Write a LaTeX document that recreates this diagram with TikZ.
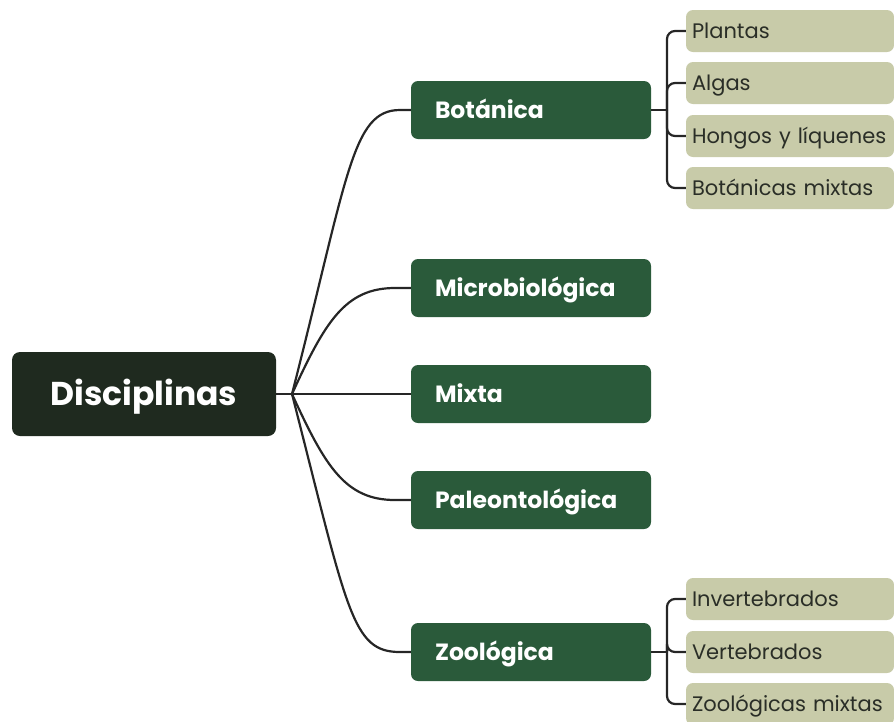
\documentclass[tikz,border=0pt]{standalone}
\usepackage{fontspec}
\setmainfont{Poppins}
\definecolor{rootc}{HTML}{1F2A1F}
\definecolor{midc}{HTML}{2A5A3A}
\definecolor{leafc}{HTML}{C8CBA9}
\definecolor{leaftext}{HTML}{2A2E27}
\definecolor{linec}{HTML}{262626}
\begin{document}
\begin{tikzpicture}[x=1pt,y=-1pt,
  rootbox/.style={fill=rootc,text=white,rounded corners=8pt,minimum width=264pt,minimum height=84pt,text height=23pt,text depth=0pt,font=\fontsize{33}{38}\selectfont\bfseries},
  midbox/.style={fill=midc,text=white,rounded corners=7pt,text width=192pt,inner xsep=24pt,inner ysep=0pt,align=left,minimum height=58pt,text height=16.5pt,text depth=0pt,font=\fontsize{23.5}{28}\selectfont\bfseries},
  leafbox/.style={fill=leafc,text=leaftext,rounded corners=7pt,text width=196pt,inner xsep=6pt,inner ysep=0pt,align=left,minimum height=42pt,text height=14.7pt,text depth=0pt,font=\fontsize{21}{25}\selectfont},
  conn/.style={draw=linec,line width=2.2pt},
  bracket/.style={draw=linec,line width=2.2pt,rounded corners=8pt}]
\useasboundingbox (0,0) rectangle (894,721);
\node[rootbox] (root) at (144,394) {Disciplinas};
\node[midbox] (bot) at (531,110) {\mbox{Botánica}};
\node[midbox] (mic) at (531,288) {\mbox{Microbiológica}};
\node[midbox] (mix) at (531,394) {\mbox{Mixta}};
\node[midbox] (pal) at (531,500) {\mbox{Paleontológica}};
\node[midbox] (zoo) at (531,652) {\mbox{Zoológica}};
\node[leafbox] (pla) at (790,31) {\mbox{Plantas}};
\node[leafbox] (alg) at (790,83) {\mbox{Algas}};
\node[leafbox] (hon) at (790,136) {\mbox{Hongos y líquenes}};
\node[leafbox] (bmx) at (790,188) {\mbox{Botánicas mixtas}};
\node[leafbox] (inv) at (790,599) {\mbox{Invertebrados}};
\node[leafbox] (ver) at (790,652) {\mbox{Vertebrados}};
\node[leafbox] (zmx) at (790,704) {\mbox{Zoológicas mixtas}};
\coordinate (hub) at (292,394);
\coordinate (bj) at (667,110);
\coordinate (zj) at (667,652);
\draw[conn] (root.east) -- (hub);
\draw[conn] (hub) .. controls (348,175) and (352,110) .. (400,110) -- (bot.west);
\draw[conn] (hub) .. controls (325,322) and (345,288) .. (395,288) -- (mic.west);
\draw[conn] (hub) -- (mix.west);
\draw[conn] (hub) .. controls (325,466) and (345,500) .. (395,500) -- (pal.west);
\draw[conn] (hub) .. controls (348,613) and (352,652) .. (400,652) -- (zoo.west);
\draw[conn] (bot.east) -- (bj);
\draw[conn] (zoo.east) -- (zj);
\foreach \l in {pla,alg,hon,bmx} \draw[bracket] (bj) |- (\l.west);
\foreach \l in {inv,ver,zmx} \draw[bracket] (zj) |- (\l.west);
\end{tikzpicture}
\end{document}
